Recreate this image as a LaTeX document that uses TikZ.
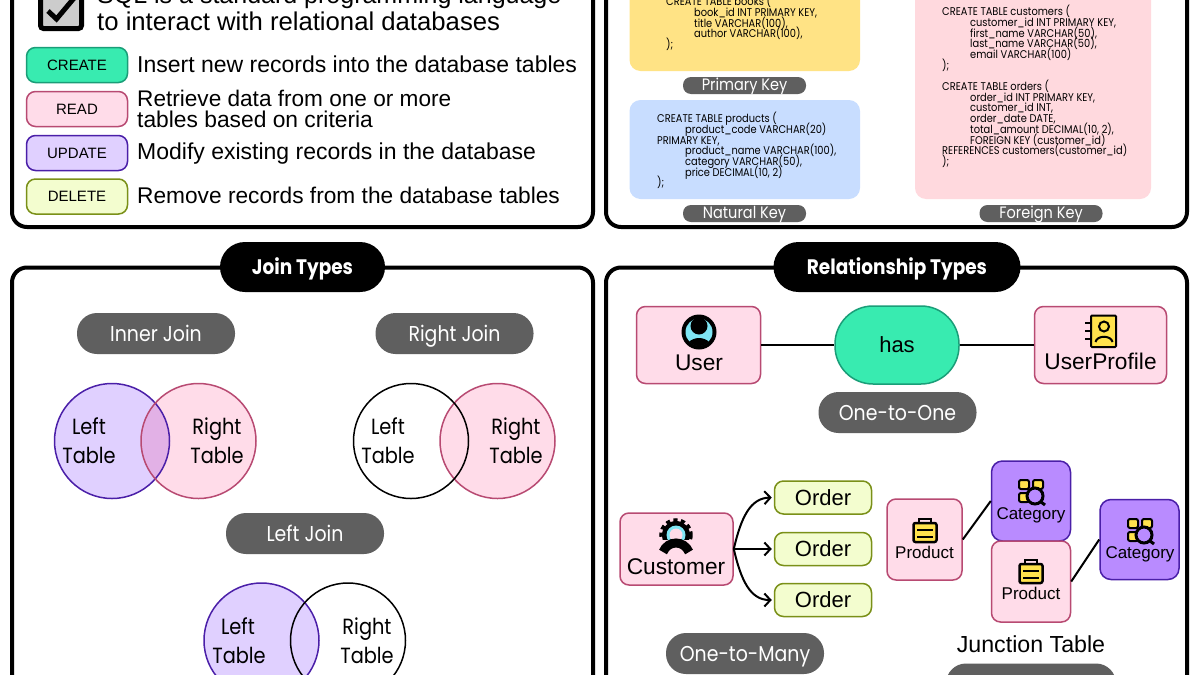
\documentclass[tikz,border=0pt]{standalone}
\usepackage{fontspec}
\usepackage{tikz}
\usetikzlibrary{arrows.meta}
\setmainfont{Liberation Sans}
\newfontfamily\outfit[FakeStretch=0.88]{Poppins}
\newcommand\codefont{\outfit\fontsize{11.2}{10.7}\selectfont\lineskiplimit=-20pt\relax}
\definecolor{greenfill}{HTML}{38EBB0}
\definecolor{greenline}{HTML}{1A9E78}
\definecolor{pinkfill}{HTML}{FFDCE9}
\definecolor{pinkline}{HTML}{B84A72}
\definecolor{lilacfill}{HTML}{E0D0FF}
\definecolor{lilacline}{HTML}{4A1FA8}
\definecolor{limefill}{HTML}{F3FDCF}
\definecolor{limeline}{HTML}{7A9018}
\definecolor{pillgray}{HTML}{5F5F5F}
\definecolor{overlapfill}{HTML}{E2B1E6}
\definecolor{catfill}{HTML}{B98BFF}
\definecolor{iconyellow}{HTML}{FFE24D}
\definecolor{iconcyan}{HTML}{7FE6F5}
\definecolor{codeyellow}{HTML}{FFE385}
\definecolor{codeblue}{HTML}{C8DDFF}
\definecolor{codepink}{HTML}{FFD9DE}

\begin{document}
\begin{tikzpicture}[x=1pt,y=-1pt,
panel/.style={draw=black, line width=4pt, rounded corners=15pt},
titlepill/.style={fill=black, text=white, rounded corners=25pt, minimum height=50pt, inner sep=0pt, text height=15pt, text depth=0pt, font=\outfit\fontsize{21}{25}\selectfont\bfseries},
pill/.style={fill=pillgray, text=white, rounded corners=20pt, minimum width=158pt, minimum height=41pt, inner sep=0pt, text height=15pt, text depth=0pt, font=\outfit\fontsize{21.5}{25}\selectfont},
keypill/.style={fill=pillgray, text=white, rounded corners=8pt, minimum width=123pt, minimum height=17pt, inner sep=0pt, text height=10.5pt, text depth=0pt, font=\outfit\fontsize{16.5}{19}\selectfont},
opbox/.style={line width=1.5pt, rounded corners=9pt, minimum width=101pt, minimum height=35pt, inner sep=0pt, font=\fontsize{15}{18}\selectfont},
desc/.style={anchor=west, inner sep=0pt, font=\fontsize{23}{26}\selectfont},
codetext/.style={anchor=north west, inner sep=0pt, align=left, font=\codefont},
venntext/.style={inner sep=0pt, text height=16pt, text depth=0pt, font=\outfit\fontsize{22}{26}\selectfont},
entity/.style={fill=pinkfill, draw=pinkline, line width=1.5pt, rounded corners=9pt, inner sep=0pt},
category/.style={fill=catfill, draw=lilacline, line width=1.5pt, rounded corners=11pt, inner sep=0pt, minimum width=79pt, minimum height=80pt},
order/.style={fill=limefill, draw=limeline, line width=1.5pt, rounded corners=9pt, minimum width=97pt, minimum height=33pt, inner sep=0pt, font=\fontsize{22}{26}\selectfont},
boxlabel/.style={inner sep=0pt, font=\fontsize{22.7}{26}\selectfont},
smalllabel/.style={inner sep=0pt, text height=12pt, text depth=0pt, font=\fontsize{17}{20}\selectfont},
link/.style={line width=2pt},
flow/.style={line width=2pt, -{Straight Barb[length=6pt,width=13pt]}, shorten >=2pt}]
\useasboundingbox (0,0) rectangle (1200,675);
\clip (0,0) rectangle (1200,675);
\fill[white] (0,0) rectangle (1200,675);

\draw[panel] (12,-40) rectangle (593,227);
\draw[panel] (606,-40) rectangle (1187,227);
\draw[panel] (12,267.5) rectangle (593,720);
\draw[panel] (606,267.5) rectangle (1187,720);

\draw[line width=5pt, fill=black!20, rounded corners=3pt] (40.5,-20) rectangle (81.5,28.5);
\draw[line width=5pt] (48,11) -- (56.5,19) -- (80,-9);
\node[anchor=base west, inner sep=0pt, font=\fontsize{25}{30}\selectfont] (introa) at (97,3) {SQL is a standard programming language};
\node[anchor=base west, inner sep=0pt, font=\fontsize{25.7}{30}\selectfont] (introb) at (97,30) {to interact with relational databases};

\node[opbox, fill=greenfill, draw=greenline] (create) at (77,65) {CREATE};
\node[opbox, fill=pinkfill, draw=pinkline] (read) at (77,109) {READ};
\node[opbox, fill=lilacfill, draw=lilacline] (update) at (77,153) {UPDATE};
\node[opbox, fill=limefill, draw=limeline] (delete) at (77,196.5) {DELETE};
\node[desc] (createdesc) at (137,64) {Insert new records into the database tables};
\node[desc, font=\fontsize{22.6}{26}\selectfont] (readdesca) at (137,98) {Retrieve data from one or more};
\node[desc, font=\fontsize{22.8}{26}\selectfont] (readdescb) at (137,119) {tables based on criteria};
\node[desc] (updatedesc) at (137,153.5) {Modify existing records in the database};
\node[desc, font=\fontsize{22.7}{26}\selectfont] (deletedesc) at (137,195) {Remove records from the database tables};

\fill[codeyellow, rounded corners=11pt] (629.5,-30) rectangle (860,71);
\fill[codeblue, rounded corners=11pt] (629.5,100) rectangle (860,199);
\fill[codepink, rounded corners=11pt] (915,-30) rectangle (1151,199);
\node[codetext] (booksql) at (666,-5) {CREATE TABLE books (\\
\hspace*{28pt}book\_id INT PRIMARY KEY,\\
\hspace*{28pt}title VARCHAR(100),\\
\hspace*{28pt}author VARCHAR(100),\\
);};
\node[codetext] (productsql) at (657,112) {CREATE TABLE products (\\
\hspace*{28pt}product\_code VARCHAR(20)\\
PRIMARY KEY,\\
\hspace*{28pt}product\_name VARCHAR(100),\\
\hspace*{28pt}category VARCHAR(50),\\
\hspace*{28pt}price DECIMAL(10, 2)\\
);};
\node[codetext] (customersql) at (942,5) {CREATE TABLE customers (\\
\hspace*{28pt}customer\_id INT PRIMARY KEY,\\
\hspace*{28pt}first\_name VARCHAR(50),\\
\hspace*{28pt}last\_name VARCHAR(50),\\
\hspace*{28pt}email VARCHAR(100)\\
);\\
\mbox{}\\
CREATE TABLE orders (\\
\hspace*{28pt}order\_id INT PRIMARY KEY,\\
\hspace*{28pt}customer\_id INT,\\
\hspace*{28pt}order\_date DATE,\\
\hspace*{28pt}total\_amount DECIMAL(10, 2),\\
\hspace*{28pt}FOREIGN KEY (customer\_id)\\
REFERENCES customers(customer\_id)\\
);};
\node[keypill] (primarykey) at (744.5,85.5) {Primary Key};
\node[keypill] (naturalkey) at (744.5,213.5) {Natural Key};
\node[keypill] (foreignkey) at (1041,213.5) {Foreign Key};

\node[titlepill, minimum width=165pt] (jointypes) at (302.5,267) {Join Types};
\node[titlepill, minimum width=247pt] (reltypes) at (897,267) {Relationship Types};

\node[pill] (innerjoin) at (156,333.5) {Inner Join};
\node[pill] (rightjoin) at (454.5,333.5) {Right Join};
\node[pill] (leftjoin) at (305,533.5) {Left Join};

\fill[lilacfill] (112,441) circle (57.5);
\fill[pinkfill] (198.5,441) circle (57.5);
\begin{scope}
\clip (112,441) circle (57.5);
\fill[overlapfill] (198.5,441) circle (57.5);
\end{scope}
\draw[lilacline, line width=1.5pt] (112,441) circle (57.5);
\draw[pinkline, line width=1.5pt] (198.5,441) circle (57.5);
\node[venntext] (innerleftt) at (89,426) {Left};
\node[venntext] (innerleftb) at (89,455.5) {Table};
\node[venntext] (innerrightt) at (217,426) {Right};
\node[venntext] (innerrightb) at (217,455.5) {Table};

\fill[pinkfill] (497.5,441) circle (57.5);
\draw[pinkline, line width=1.5pt] (497.5,441) circle (57.5);
\draw[black, line width=1.5pt] (411,441) circle (57.5);
\node[venntext] (rightleftt) at (388,426) {Left};
\node[venntext] (rightleftb) at (388,455.5) {Table};
\node[venntext] (rightrightt) at (516,426) {Right};
\node[venntext] (rightrightb) at (516,455.5) {Table};

\fill[lilacfill] (261.5,640.5) circle (57.5);
\draw[lilacline, line width=1.5pt] (261.5,640.5) circle (57.5);
\draw[black, line width=1.5pt] (348,640.5) circle (57.5);
\node[venntext] (leftleftt) at (238,626) {Left};
\node[venntext] (leftleftb) at (239,655.5) {Table};
\node[venntext] (leftrightt) at (367,626) {Right};
\node[venntext] (leftrightb) at (367,655.5) {Table};

\node[entity, minimum width=124pt, minimum height=77pt] (user) at (698.5,345) {};
\node[fill=greenfill, draw=greenline, line width=1.5pt, rounded corners=38pt, minimum width=124pt, minimum height=78pt, inner sep=0pt, font=\fontsize{22}{26}\selectfont] (has) at (897,345) {has};
\node[entity, minimum width=132pt, minimum height=77pt] (userprofile) at (1100.5,345) {};
\draw[link] (user) -- (has);
\draw[link] (has) -- (userprofile);
\node[boxlabel] (userlabel) at (699,363) {User};
\node[boxlabel] (userprofilelabel) at (1100.5,361) {UserProfile};
\node[pill] (onetoone) at (897.5,412.5) {One-to-One};

\fill[black] (699,332) circle (17.5);
\fill[iconcyan] (699,332) circle (13.5);
\begin{scope}
\clip (699,332) circle (14);
\fill[black] (699,353) circle (15);
\end{scope}
\fill[black] (699,326) circle (8.5);

\draw[line width=2pt] (1085,323) -- (1092,323);
\draw[line width=2pt] (1085,331) -- (1092,331);
\draw[line width=2pt] (1085,339) -- (1092,339);
\draw[line width=2pt, fill=iconyellow, rounded corners=1pt] (1091,315.5) rectangle (1116,347);
\draw[line width=2pt] (1104,326.5) circle (5);
\draw[line width=2pt] (1095.5,342) .. controls (1097,335) and (1111,335) .. (1112.5,342);

\node[entity, minimum width=113pt, minimum height=72pt] (customer) at (676.5,549) {};
\node[boxlabel] (customerlabel) at (676,567) {Customer};
\node[order] (ordera) at (823,497.5) {Order};
\node[order] (orderb) at (823,549) {Order};
\node[order] (orderc) at (823,600) {Order};
\draw[flow] (customer.east) .. controls (741,518) and (750,498) .. (ordera.west);
\draw[flow] (customer.east) -- (orderb.west);
\draw[flow] (customer.east) .. controls (741,580) and (750,600) .. (orderc.west);
\node[pill] (onetomany) at (745,653.5) {One-to-Many};

\draw[line width=4.5pt, dash pattern=on 4pt off 3.3pt] (676,535) circle (14.5);
\fill[black] (676,535) circle (14);
\fill[iconcyan] (676,535) circle (9.5);
\fill[pinkfill] (676,535) circle (6.5);
\fill[pinkfill] (655,540) rectangle (697,558);
\draw[line width=9pt] (663,552) .. controls (668,540) and (684,540) .. (689,552);
\fill[pinkfill] (672,551) rectangle (680,558);

\node[entity, minimum width=75pt, minimum height=81pt] (producta) at (924.5,539.5) {};
\node[category] (categorya) at (1031,501) {};
\node[entity, minimum width=79pt, minimum height=81pt] (productb) at (1031,581.5) {};
\node[category] (categoryb) at (1139.5,539.5) {};
\draw[link] (producta.east) -- (categorya.west);
\draw[link] (productb.east) -- (categoryb.west);
\node[smalllabel] (productalabel) at (924.5,552) {Product};
\node[smalllabel] (categoryalabel) at (1031,513) {Category};
\node[smalllabel] (productblabel) at (1031,593) {Product};
\node[smalllabel] (categoryblabel) at (1140,552) {Category};

\begin{scope}[shift={(925,531)}]
\draw[line width=2pt] (-6,-7) rectangle (6,-12);
\draw[line width=2.5pt, fill=iconyellow, rounded corners=2pt] (-11.5,-8) rectangle (11.5,11);
\draw[line width=2pt] (-8,-1) -- (8,-1);
\draw[line width=2pt] (-8,6) -- (8,6);
\end{scope}
\begin{scope}[shift={(1031,572)}]
\draw[line width=2pt] (-6,-7) rectangle (6,-12);
\draw[line width=2.5pt, fill=iconyellow, rounded corners=2pt] (-11.5,-8) rectangle (11.5,11);
\draw[line width=2pt] (-8,-1) -- (8,-1);
\draw[line width=2pt] (-8,6) -- (8,6);
\end{scope}

\begin{scope}[shift={(1031,491)}]
\draw[line width=2pt, fill=iconyellow, rounded corners=2pt] (-12,-11) rectangle (-2,-2);
\draw[line width=2pt, fill=iconyellow, rounded corners=2pt] (2,-11) rectangle (12,-2);
\draw[line width=2pt, fill=iconyellow, rounded corners=2pt] (-12,2) rectangle (-2,11);
\draw[line width=3pt, fill=catfill] (4,5) circle (8);
\draw[line width=3pt] (10,11) -- (14,14);
\end{scope}
\begin{scope}[shift={(1140,530)}]
\draw[line width=2pt, fill=iconyellow, rounded corners=2pt] (-12,-11) rectangle (-2,-2);
\draw[line width=2pt, fill=iconyellow, rounded corners=2pt] (2,-11) rectangle (12,-2);
\draw[line width=2pt, fill=iconyellow, rounded corners=2pt] (-12,2) rectangle (-2,11);
\draw[line width=3pt, fill=catfill] (4,5) circle (8);
\draw[line width=3pt] (10,11) -- (14,14);
\end{scope}

\node[boxlabel, font=\fontsize{23.2}{27}\selectfont] (junctionlabel) at (1031,644) {Junction Table};
\node[pill, minimum width=170pt] (manypill) at (1031,684) {};
\end{tikzpicture}
\end{document}
